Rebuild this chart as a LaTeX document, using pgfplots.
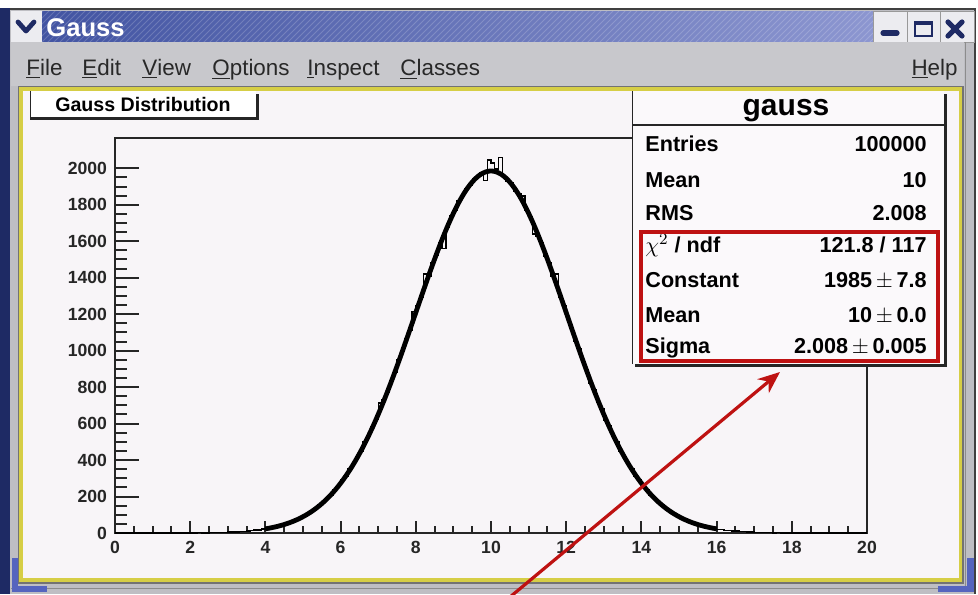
\documentclass[border=0pt]{standalone}
\usepackage{fontspec}
\setmainfont{Liberation Sans}
\usepackage{pgfplots}
\pgfplotsset{compat=1.18}
\usetikzlibrary{arrows.meta,patterns}

\definecolor{canvasbg}{RGB}{248,245,248}
\definecolor{boxbg}{RGB}{251,249,251}
\definecolor{menubg}{RGB}{200,200,204}
\definecolor{framegray}{RGB}{190,190,195}
\definecolor{navy}{RGB}{30,42,100}
\definecolor{tbleft}{RGB}{66,84,162}
\definecolor{tbright}{RGB}{140,150,208}
\definecolor{ylw}{RGB}{214,206,70}
\definecolor{handle}{RGB}{85,100,190}
\definecolor{darkred}{RGB}{190,18,18}
\definecolor{btnbg}{RGB}{236,236,240}
\definecolor{menutext}{RGB}{40,40,40}

\pgfplotstableread{
x y
0.0 0
1.2 1
1.3 0
1.9 1
2.0 0
2.1 1
2.2 2
2.3 1
2.4 1
2.5 2
2.6 3
2.7 2
2.8 4
2.9 4
3.0 5
3.1 6
3.2 6
3.3 9
3.4 9
3.5 12
3.6 13
3.7 16
3.8 17
3.9 22
4.0 24
4.1 29
4.2 32
4.3 39
4.4 42
4.5 51
4.6 56
4.7 66
4.8 73
4.9 85
5.0 96
5.1 106
5.2 123
5.3 134
5.4 154
5.5 168
5.6 192
5.7 209
5.8 237
5.9 257
6.0 290
6.1 312
6.2 350
6.3 377
6.4 420
6.5 449
6.6 499
6.7 531
6.8 585
6.9 621
7.0 712
7.1 730
7.2 771
7.3 837
7.4 880
7.5 949
7.6 995
7.7 1066
7.8 1112
7.9 1215
8.0 1245
8.1 1292
8.2 1420
8.3 1410
8.4 1480
8.5 1523
8.6 1590
8.7 1560
8.8 1679
8.9 1738
9.0 1768
9.1 1821
9.2 1845
9.3 1890
9.4 1906
9.5 1941
9.6 1950
9.7 1975
9.8 1932
9.9 2045
10.0 2030
10.1 1995
10.2 2058
10.3 1948
10.4 1929
10.5 1920
10.6 1876
10.7 1862
10.8 1848
10.9 1768
11.0 1737
11.1 1640
11.2 1629
11.3 1592
11.4 1520
11.5 1481
11.6 1409
11.7 1420
11.8 1290
11.9 1247
12.0 1171
12.1 1127
12.2 1051
12.3 1009
12.4 936
12.5 894
12.6 823
12.7 785
12.8 717
12.9 682
13.0 619
13.1 586
13.2 529
13.3 500
13.4 448
13.5 421
13.6 375
13.7 352
13.8 311
13.9 291
14.0 256
14.1 238
14.2 208
14.3 193
14.4 167
14.5 155
14.6 133
14.7 124
14.8 105
14.9 97
15.0 82
15.1 76
15.2 63
15.3 59
15.4 48
15.5 45
15.6 36
15.7 34
15.8 27
15.9 26
16.0 20
16.1 19
16.2 14
16.3 14
16.4 10
16.5 10
16.6 7
16.7 8
16.8 5
16.9 6
17.0 4
17.1 3
17.2 3
17.3 2
17.4 2
17.5 1
17.6 2
17.7 1
17.8 1
17.9 0
18.0 1
18.1 0
18.2 1
18.3 0
20.0 0
}\histdata

\pgfplotstableread{
x y
4.00 22.9
4.05 24.6
4.15 28.5
4.25 32.9
4.35 37.9
4.45 43.5
4.55 49.9
4.65 57.0
4.75 65.1
4.85 74.0
4.95 84.0
5.05 95.1
5.15 107.4
5.25 121.0
5.35 135.9
5.45 152.3
5.55 170.3
5.65 189.9
5.75 211.3
5.85 234.5
5.95 259.7
6.05 286.8
6.15 315.9
6.25 347.1
6.35 380.4
6.45 416.0
6.55 453.7
6.65 493.6
6.75 535.7
6.85 579.9
6.95 626.2
7.05 674.6
7.15 724.9
7.25 777.1
7.35 830.9
7.45 886.3
7.55 943.0
7.65 1000.8
7.75 1059.6
7.85 1118.9
7.95 1178.8
8.05 1238.7
8.15 1298.5
8.25 1357.8
8.35 1416.2
8.45 1473.6
8.55 1529.4
8.65 1583.5
8.75 1635.4
8.85 1684.8
8.95 1731.3
9.05 1774.8
9.15 1814.9
9.25 1851.3
9.35 1883.7
9.45 1911.9
9.55 1935.8
9.65 1955.1
9.75 1969.7
9.85 1979.5
9.95 1984.4
10.00 1985.0
10.05 1984.4
10.15 1979.5
10.25 1969.7
10.35 1955.1
10.45 1935.8
10.55 1911.9
10.65 1883.7
10.75 1851.3
10.85 1814.9
10.95 1774.8
11.05 1731.3
11.15 1684.8
11.25 1635.4
11.35 1583.5
11.45 1529.4
11.55 1473.6
11.65 1416.2
11.75 1357.8
11.85 1298.5
11.95 1238.7
12.05 1178.8
12.15 1118.9
12.25 1059.6
12.35 1000.8
12.45 943.0
12.55 886.3
12.65 830.9
12.75 777.1
12.85 724.9
12.95 674.6
13.05 626.2
13.15 579.9
13.25 535.7
13.35 493.6
13.45 453.7
13.55 416.0
13.65 380.4
13.75 347.1
13.85 315.9
13.95 286.8
14.05 259.7
14.15 234.5
14.25 211.3
14.35 189.9
14.45 170.3
14.55 152.3
14.65 135.9
14.75 121.0
14.85 107.4
14.95 95.1
15.05 84.0
15.15 74.0
15.25 65.1
15.35 57.0
15.45 49.9
15.55 43.5
15.65 37.9
15.75 32.9
15.85 28.5
15.95 24.6
16.00 22.9
}\fitdata

\pgfplotsset{
  rootaxis/.style={
    at={(57.5pt,-266.5pt)}, anchor=south west,
    scale only axis, width=376pt, height=197.5pt,
    xmin=0, xmax=20, ymin=0, ymax=2166,
    axis line style={line width=1.1pt,black!85},
    tick pos=left, tick align=inside,
    tick style={line width=1pt,black!85},
    /pgf/number format/assume math mode=true,
    /pgf/number format/1000 sep={},
    ticklabel style={font=\fontsize{8.8}{10}\selectfont\bfseries,text=black!85},
  }
}

\begin{document}
\begin{tikzpicture}
% ---------- window frame (pixel units) ----------
\begin{scope}[x=0.5pt,y=-0.5pt]
\useasboundingbox (0,0) rectangle (978,594);
\fill[white] (0,0) rectangle (978,594);
\fill[navy] (0,8) rectangle (10,594);
\fill[framegray] (10,9) rectangle (975,594);
\draw[black!75,line width=0.6pt] (10,9) -- (975,9) -- (975,594);
% title bar
\fill[btnbg] (11,11) rectangle (42,42);
\draw[navy,line width=2.4pt,line cap=round,line join=round] (18,22) -- (26,31) -- (34,22);
\fill[left color=tbleft,right color=tbright] (42,11) rectangle (873,42);
\fill[pattern=north east lines,pattern color=white,opacity=0.18] (42,11) rectangle (873,42);
\node[anchor=base west,text=white,font=\fontsize{12.8}{14}\selectfont\bfseries,inner sep=0pt] at (46,36) {Gauss};
\foreach \a/\b in {873/907,907/940,940/974}{
  \fill[btnbg] (\a,11) rectangle (\b,42);
  \draw[black!40,line width=0.4pt] (\a,11) rectangle (\b,42);
}
\draw[navy,line width=2.6pt,line cap=round] (883,33) -- (897,33);
\draw[navy,line width=1.3pt] (915,22) rectangle (932,36);
\fill[navy] (915,21) rectangle (932,25);
\draw[navy,line width=2.6pt,line cap=round] (948,22) -- (962,36);
\draw[navy,line width=2.6pt,line cap=round] (948,36) -- (962,22);
% menu bar
\fill[menubg] (11,42) rectangle (964,86);
\draw[black!45,line width=0.5pt] (965,42) -- (965,588);
\begin{scope}[every node/.style={anchor=base west,inner sep=0pt,text=menutext,font=\fontsize{11.2}{13}\selectfont}]
\node at (26,75) {\underline{F}ile};
\node at (82,75) {\underline{E}dit};
\node at (142,75) {\underline{V}iew};
\node at (212,75) {\underline{O}ptions};
\node at (307,75) {\underline{I}nspect};
\node at (400,75) {\underline{C}lasses};
\node[anchor=base east] at (958,75) {\underline{H}elp};
\end{scope}
% canvas
\fill[black!55] (18,86) rectangle (964,584);
\fill[ylw] (19,87) rectangle (962,582);
\fill[canvasbg] (23,91) rectangle (959,578);
\draw[black!45,line width=0.5pt] (11,588) -- (965,588);
% resize handles
\fill[handle] (12,558) rectangle (18,590);
\fill[handle] (12,586) rectangle (47,592);
\fill[handle] (967,558) rectangle (974,592);
\fill[handle] (938,586) rectangle (974,592);
\end{scope}

% ---------- x axis ticks (short ticks) ----------
\begin{axis}[rootaxis,
  xtick={0,2,...,20}, minor x tick num=3,
  ytick=\empty,
  major tick length=6pt, minor tick length=3.5pt,
  xticklabel style={yshift=-0.5pt},
]
\end{axis}
% ---------- y axis ticks (long ticks) and the data ----------
\begin{axis}[rootaxis,
  xtick=\empty,
  ytick={0,200,...,2000}, minor y tick num=3,
  major tick length=12pt, minor tick length=6pt,
  yticklabel style={xshift=-0.5pt},
]
\addplot[const plot, black, line width=0.7pt] table[x=x,y=y] {\histdata};
\addplot[black, line width=2.4pt, line join=round, smooth] table[x=x,y=y] {\fitdata};
\end{axis}

% ---------- overlays: title box, stats box, arrow ----------
\begin{scope}[x=0.5pt,y=-0.5pt]
% title box
\fill[white] (30,91) rectangle (256,117);
\fill[black!85] (256,94) rectangle (259,120);
\fill[black!85] (30,117) rectangle (259,120);
\draw[black!85,line width=0.6pt] (30.5,91) -- (30.5,117);
\node[font=\fontsize{9.8}{11}\selectfont\bfseries,inner sep=0pt,anchor=base] at (143,111) {Gauss Distribution};
% stats box
\fill[boxbg] (632,91) rectangle (944,364);
\fill[black!85] (944,94) rectangle (947,367);
\fill[black!85] (635,364) rectangle (947,367);
\draw[black!85,line width=0.6pt] (632.5,91) -- (632.5,364);
\draw[black!85,line width=0.8pt] (632,125) -- (944,125);
\node[font=\fontsize{15}{17}\selectfont\bfseries,inner sep=0pt,anchor=base] at (786,115) {gauss};
\begin{scope}[every node/.style={inner sep=0pt,font=\fontsize{10.8}{12}\selectfont\bfseries}]
\node[anchor=base west] at (645,151) {Entries};
\node[anchor=base east] at (927,151) {100000};
\node[anchor=base west] at (645,187) {Mean};
\node[anchor=base east] at (927,187) {10};
\node[anchor=base west] at (645,220) {RMS};
\node[anchor=base east] at (927,220) {2.008};
\node[anchor=base west] at (645,252) {$\chi^{2}$ / ndf};
\node[anchor=base east] at (927,252) {121.8 / 117};
\node[anchor=base west] at (645,287) {Constant};
\node[anchor=base east] at (927,287) {1985$\,\pm\,$7.8};
\node[anchor=base west] at (645,322) {Mean};
\node[anchor=base east] at (927,322) {10$\,\pm\,$0.0};
\node[anchor=base west] at (645,353) {Sigma};
\node[anchor=base east] at (927,353) {2.008$\,\pm\,$0.005};
\end{scope}
\draw[darkred,line width=1.6pt] (641,232) rectangle (938,361);
% arrow
\begin{scope}
\clip (0,0) rectangle (978,594);
\draw[darkred,line width=1.6pt,-{Stealth[length=11pt,width=9pt]}] (480,622) -- (780,372);
\end{scope}
\end{scope}
\end{tikzpicture}
\end{document}
